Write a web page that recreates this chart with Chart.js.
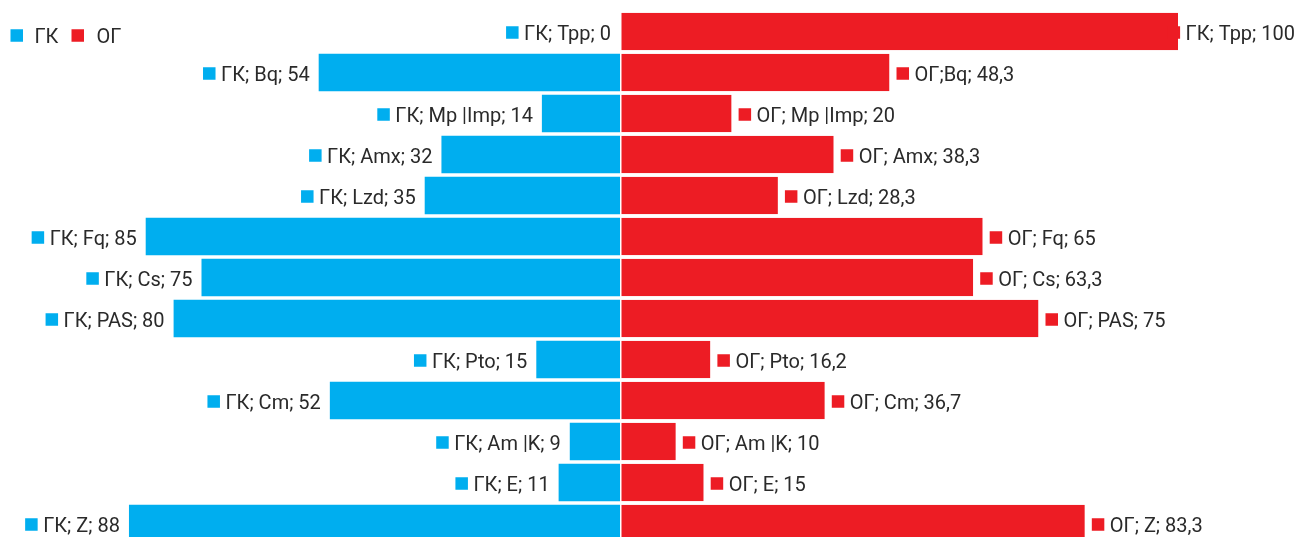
<!DOCTYPE html>
<html>
<head>
<meta charset="utf-8">
<script src="https://cdn.jsdelivr.net/npm/chart.js@4/dist/chart.umd.min.js"></script>
<style>
  html, body { margin: 0; padding: 0; background: #fff; overflow: hidden; }
  #wrap { position: relative; width: 1297px; height: 545px; }
</style>
</head>
<body>
<div id="wrap"><canvas id="chart"></canvas></div>
<script>
'use strict';

// ─── Data ─────────────────────────────────────────────────────────────────────

const categories = ['Tpp', 'Bq', 'Mp |Imp', 'Amx', 'Lzd', 'Fq', 'Cs', 'PAS', 'Pto', 'Cm', 'Am |K', 'E', 'Z'];
const gkValues   = [0, 54, 14, 32, 35, 85, 75, 80, 15, 52, 9, 11, 88];
const ogValues   = [100, 48.3, 20, 38.3, 28.3, 65, 63.3, 75, 16.2, 36.7, 10, 15, 83.3];
const seriesNames = ['ГК', 'ОГ'];

const BLUE = '#00aeef';
const RED  = '#ed1c24';
const TEXT = '#2a2a2a';
const FONT = '20px Roboto, "Liberation Sans", sans-serif';

// ─── Helpers ──────────────────────────────────────────────────────────────────

const fmt = (v) => String(v).replace('.', ',');

const gkLabels = categories.map((c, i) => `${seriesNames[0]}; ${c}; ${fmt(gkValues[i])}`);
const ogLabels = categories.map((c, i) => `${seriesNames[1]}; ${c}; ${fmt(ogValues[i])}`);
// two labels are printed slightly differently in the source
ogLabels[0] = `${seriesNames[0]}; ${categories[0]}; ${fmt(ogValues[0])}`;
ogLabels[1] = `${seriesNames[1]};${categories[1]}; ${fmt(ogValues[1])}`;

// ─── Label + legend plugin ────────────────────────────────────────────────────

const SQ = 12.5;

function drawTag(ctx, x, y, color, text, gap = 5.5) {
  ctx.fillStyle = color;
  ctx.fillRect(x, y - SQ / 2 + 1, SQ, SQ);
  ctx.fillStyle = TEXT;
  ctx.fillText(text, x + SQ + gap, y + 8);
}

const tagPlugin = {
  id: 'tags',
  afterDatasetsDraw(chart) {
    const ctx = chart.ctx;
    const W = chart.width;
    ctx.save();
    ctx.font = FONT;
    ctx.textAlign = 'left';
    ctx.textBaseline = 'alphabetic';

    chart.getDatasetMeta(0).data.forEach((bar, j) => {
      const w = ctx.measureText(gkLabels[j]).width;
      const textStart = bar.x - 9 - w;
      drawTag(ctx, textStart - 5.5 - SQ, bar.y, BLUE, gkLabels[j]);
    });

    chart.getDatasetMeta(1).data.forEach((bar, j) => {
      const w = ctx.measureText(ogLabels[j]).width;
      let x = bar.x + 7;
      const end = x + SQ + 5.5 + w;
      if (end > W - 2) x -= end - (W - 2);
      drawTag(ctx, x, bar.y, RED, ogLabels[j]);
    });

    // legend
    drawTag(ctx, 10.5, 34.5, BLUE, seriesNames[0], 11.5);
    drawTag(ctx, 71.5, 34.5, RED, seriesNames[1], 12.5);
    ctx.restore();
  },
};

// ─── Chart ────────────────────────────────────────────────────────────────────

const PX_PER_UNIT = 5.58;
const CENTER = 620;

new Chart(document.getElementById('chart'), {
  type: 'bar',
  data: {
    labels: categories,
    datasets: [
      {
        label: seriesNames[0],
        data: gkValues.map((v) => -v),
        backgroundColor: BLUE,
        borderWidth: 0,
      },
      {
        label: seriesNames[1],
        data: ogValues,
        backgroundColor: RED,
        borderColor: '#fff',
        borderWidth: { left: 1.5, right: 0, top: 0, bottom: 0 },
        borderSkipped: false,
      },
    ],
  },
  options: {
    indexAxis: 'y',
    responsive: true,
    maintainAspectRatio: false,
    animation: false,
    barPercentage: 0.92,
    categoryPercentage: 1,
    layout: { padding: { top: 11, bottom: 1, left: 0, right: 0 } },
    plugins: { legend: { display: false }, tooltip: { enabled: false } },
    scales: {
      x: {
        display: false,
        stacked: true,
        min: -CENTER / PX_PER_UNIT,
        max: (1297 - CENTER) / PX_PER_UNIT,
      },
      y: { display: false, stacked: true },
    },
  },
  plugins: [tagPlugin],
});
</script>
</body>
</html>
